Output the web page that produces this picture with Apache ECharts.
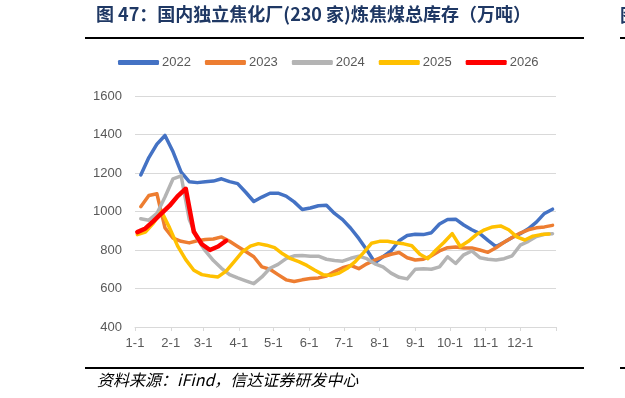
<!DOCTYPE html>
<html>
<head>
    <meta charset="UTF-8">
    <title>国内独立焦化厂炼焦煤总库存</title>
    <style>
        html, body { margin: 0; padding: 0; background: #fff; }
    </style>
</head>
<body>
<div id="main" style="width:625px; height:398px;"></div>

<script type="text/javascript" src="https://cdn.jsdelivr.net/npm/echarts@6/dist/echarts.min.js"></script>
<script type="text/javascript">

    // 横轴：一年中的日序号，每月1日一个刻度
    var monthStarts = [0, 31, 59, 90, 120, 151, 181, 212, 243, 273, 304, 334];
    var monthLabels = ['1-1', '2-1', '3-1', '4-1', '5-1', '6-1', '7-1', '8-1', '9-1', '10-1', '11-1', '12-1'];
    var yearEnd = 365;

    // 纵轴刻度
    var yTicks = [400, 600, 800, 1000, 1200, 1400, 1600];

    var years = ['2022', '2023', '2024', '2025', '2026'];
    // 每年第一个周度数据所在的日序号（之后每7天一个点）
    var firstDay = [5, 5, 5, 2, 2];

    // 周度库存（万吨）
    var s2022 = [1190, 1280, 1350, 1395, 1310, 1205, 1155, 1150, 1155, 1158, 1170, 1155, 1145, 1100, 1052, 1075, 1095, 1095, 1080, 1050,
        1010, 1018, 1030, 1032, 990, 958, 913, 860, 800, 735, 765, 795, 848, 875, 882, 880, 890, 935, 958, 960,
        930, 905, 885, 850, 818, 840, 865, 885, 910, 945, 990, 1012];
    var s2023 = [1025, 1083, 1092, 915, 862, 845, 837, 848, 855, 857, 868, 845, 818, 792, 765, 712, 700, 672, 645, 636,
        645, 652, 655, 665, 688, 708, 720, 703, 728, 748, 765, 778, 787, 760, 748, 752, 770, 795, 812, 815,
        810, 810, 800, 788, 812, 840, 865, 888, 905, 915, 920, 928];
    var s2024 = [962, 955, 990, 1075, 1170, 1185, 960, 860, 795, 745, 705, 672, 655, 640, 625, 660, 705, 725, 755, 770,
        772, 768, 768, 752, 745, 742, 757, 768, 755, 728, 712, 680, 658, 650, 700, 702, 700, 712, 765, 730,
        775, 795, 760, 752, 748, 755, 770, 825, 845, 870, 882, 885];
    var s2025 = [880, 893, 940, 1000, 915, 820, 750, 695, 672, 665, 660, 690, 740, 790, 820, 833, 825, 812, 780, 755,
        740, 720, 695, 672, 668, 680, 705, 740, 785, 835, 845, 845, 838, 832, 822, 778, 755, 800, 840, 885,
        818, 845, 880, 905, 920, 925, 905, 868, 852, 872, 880, 883];
    var s2026 = [893, 912, 950, 990, 1030, 1080, 1118, 895, 830, 800, 818, 848];

    var values = [s2022, s2023, s2024, s2025, s2026];
    var colors = ['#4472C4', '#ED7D31', '#B4B4B4', '#FFC000', '#FF0000'];
    var widths = [3.5, 3.5, 3.5, 3.5, 4.5];

    var myChart = echarts.init(document.getElementById('main'), null, {renderer: 'canvas'});

    // 把周序号换成日序号
    function toPoints(list, start) {
        var pts = [];
        for (var i = 0; i < list.length; i++) {
            pts.push([start + 7 * i, list[i]]);
        }
        return pts;
    }

    var series = [];
    for (var k = 0; k < years.length; k++) {
        series.push({
            name: years[k],
            type: 'line',
            data: toPoints(values[k], firstDay[k]),
            showSymbol: false,
            symbol: 'none',
            smooth: false,
            color: colors[k],
            lineStyle: {color: colors[k], width: widths[k], cap: 'round', join: 'round'},
            emphasis: {disabled: true}
        });
    }

    var numFont = '"Liberation Sans", Arial, sans-serif';
    var cjkFont = '"Noto Sans CJK SC", sans-serif';

    var option = {
        animation: false,
        backgroundColor: '#fff',
        title: {
            text: '图 47：国内独立焦化厂(230 家)炼焦煤总库存（万吨）',
            left: 96,
            top: 5,
            padding: 0,
            textStyle: {
                color: '#1F3864',
                fontSize: 18,
                fontWeight: 'bold',
                fontFamily: cjkFont
            }
        },
        legend: {
            data: years,
            left: 113,
            top: 51,
            icon: 'roundRect',
            itemWidth: 41,
            itemHeight: 5,
            itemGap: 14,
            textStyle: {color: '#595959', fontSize: 13, fontFamily: numFont, padding: [0, 0, 0, -2]}
        },
        grid: {
            left: 135,
            right: 69,
            top: 96,
            bottom: 71,
            containLabel: false
        },
        xAxis: {
            type: 'value',
            min: 0,
            max: yearEnd,
            splitLine: {show: false},
            axisLine: {show: true, lineStyle: {color: '#D9D9D9', width: 1}},
            axisTick: {
                show: true,
                length: 4,
                customValues: monthStarts.concat([yearEnd]),
                lineStyle: {color: '#D9D9D9'}
            },
            axisLabel: {
                customValues: monthStarts,
                margin: 10,
                color: '#595959',
                fontSize: 13,
                fontFamily: numFont,
                formatter: function (v) {
                    var idx = monthStarts.indexOf(v);
                    return idx >= 0 ? monthLabels[idx] : '';
                }
            }
        },
        yAxis: {
            type: 'value',
            min: yTicks[0],
            max: yTicks[yTicks.length - 1],
            interval: 200,
            axisLine: {show: false},
            axisTick: {show: false},
            splitLine: {lineStyle: {color: '#D9D9D9', width: 1}},
            axisLabel: {
                margin: 13,
                color: '#595959',
                fontSize: 13,
                fontFamily: numFont,
                formatter: function (v) { return String(v); }
            }
        },
        graphic: [
            // 标题下划线
            {type: 'line', shape: {x1: 85, y1: 38, x2: 584, y2: 38}, style: {stroke: '#000', lineWidth: 2}},
            // 来源上方的线
            {type: 'line', shape: {x1: 85, y1: 368, x2: 584, y2: 368}, style: {stroke: '#000', lineWidth: 2}},
            {
                type: 'text', left: 97, top: 372,
                style: {
                    text: '资料来源：iFind，信达证券研发中心',
                    fill: '#000',
                    font: 'italic 16px ' + cjkFont
                }
            },
            // 右侧相邻图表露出的边角
            {type: 'line', shape: {x1: 620, y1: 38, x2: 626, y2: 38}, style: {stroke: '#000', lineWidth: 2}},
            {
                type: 'text', left: 620, top: 6,
                style: {text: '图', fill: '#1F3864', font: 'bold 18px ' + cjkFont}
            },
            {type: 'line', shape: {x1: 620, y1: 368, x2: 626, y2: 368}, style: {stroke: '#000', lineWidth: 2}}
        ],
        series: series
    };

    myChart.setOption(option);

</script>
</body>
</html>
